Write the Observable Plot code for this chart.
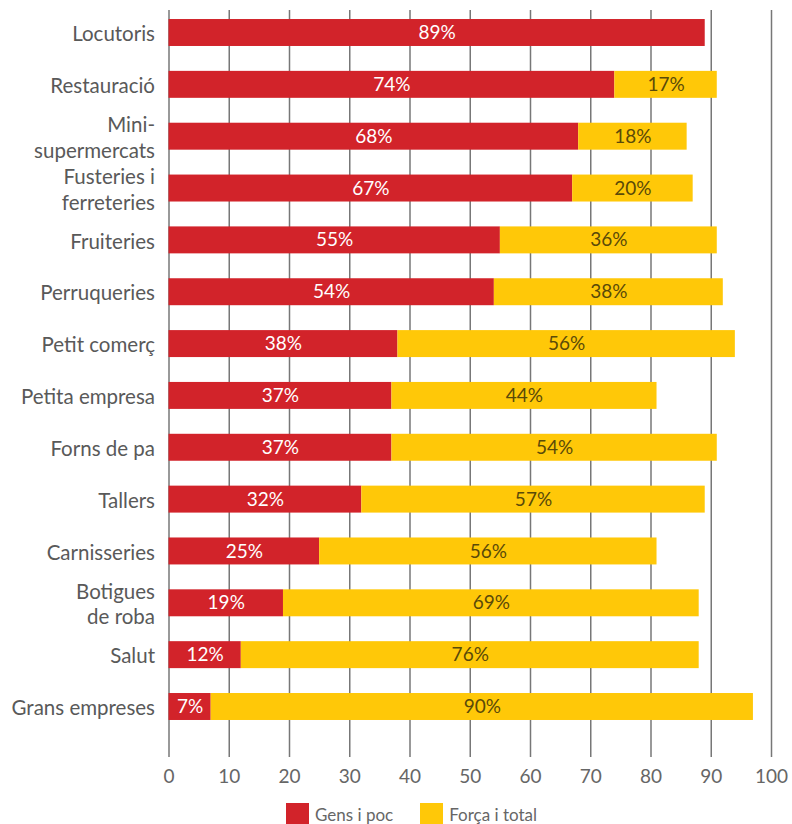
<!DOCTYPE html>
<html>
<head>
<meta charset="utf-8">
<script src="https://cdn.jsdelivr.net/npm/d3@7"></script>
<script src="https://cdn.jsdelivr.net/npm/@observablehq/plot@0.6"></script>
<style>
  body { margin: 0; background: #fff; font-family: Lato, "Open Sans", sans-serif; }
  #chart svg { display: block; }
  .legend { display: flex; gap: 0; margin-left: 286px; margin-top: 6px; font-size: 17px; color: #666; }
  .legend .item { display: flex; align-items: center; margin-right: 27px; }
  .legend .sw { width: 23px; height: 23px; margin-right: 6px; }
</style>
</head>
<body>
<div id="chart"></div>
<div class="legend">
  <div class="item"><div class="sw" style="background:#D2232A"></div><span>Gens i poc</span></div>
  <div class="item"><div class="sw" style="background:#FFC808"></div><span>Força i total</span></div>
</div>
<script>
const categories = ["Locutoris", "Restauració", "Mini-\nsupermercats", "Fusteries i\nferreteries", "Fruiteries", "Perruqueries", "Petit comerç", "Petita empresa", "Forns de pa", "Tallers", "Carnisseries", "Botigues\nde roba", "Salut", "Grans empreses"];
const seriesNames = ["Gens i poc", "Força i total"];
const gensIPoc = [89, 74, 68, 67, 55, 54, 38, 37, 37, 32, 25, 19, 12, 7];
const forcaITotal = [0, 17, 18, 20, 36, 38, 56, 44, 54, 57, 56, 69, 76, 90];
const xTicks = [0, 10, 20, 30, 40, 50, 60, 70, 80, 90, 100];
const colors = ["#D2232A", "#FFC808"];

const rows = [];
categories.forEach((c, i) => {
  rows.push({cat: c, series: seriesNames[0], value: gensIPoc[i]});
  rows.push({cat: c, series: seriesNames[1], value: forcaITotal[i]});
});

const stackOpts = {x: "value", y: "cat", z: "series", order: seriesNames};

const plot = Plot.plot({
  width: 792,
  height: 797,
  marginTop: 10,
  marginBottom: 40,
  marginLeft: 168.5,
  marginRight: 21,
  style: {fontFamily: "Lato, 'Open Sans', sans-serif", background: "#fff"},
  x: {domain: [0, 100], axis: null, label: null},
  y: {domain: categories, range: [10, 729], paddingInner: 0.48, paddingOuter: 0.174, round: false, axis: null},
  color: {domain: seriesNames, range: colors},
  marks: [
    Plot.gridX({ticks: xTicks, stroke: "#777", strokeOpacity: 1, strokeWidth: 1.5}),
    Plot.axisX({ticks: xTicks, tickSize: 0, tickPadding: 12, fontSize: 19, color: "#666", label: null}),
    Plot.barX(rows, Plot.stackX({...stackOpts, fill: "series"})),
    Plot.text(rows, Plot.stackX({...stackOpts,
      text: d => d.series === seriesNames[0] && d.value > 0 ? d.value + "%" : null,
      fill: "#fff", fontSize: 19})),
    Plot.text(rows, Plot.stackX({...stackOpts,
      text: d => d.series === seriesNames[1] && d.value > 0 ? d.value + "%" : null,
      fill: "#5a4a08", fontSize: 19})),
    Plot.text(categories, {x: 0, y: d => d, text: d => d, textAnchor: "end", dx: -14,
      lineHeight: 1.26, fontSize: 20.5, fill: "#595959"})
  ]
});
document.getElementById("chart").appendChild(plot);
</script>
</body>
</html>
